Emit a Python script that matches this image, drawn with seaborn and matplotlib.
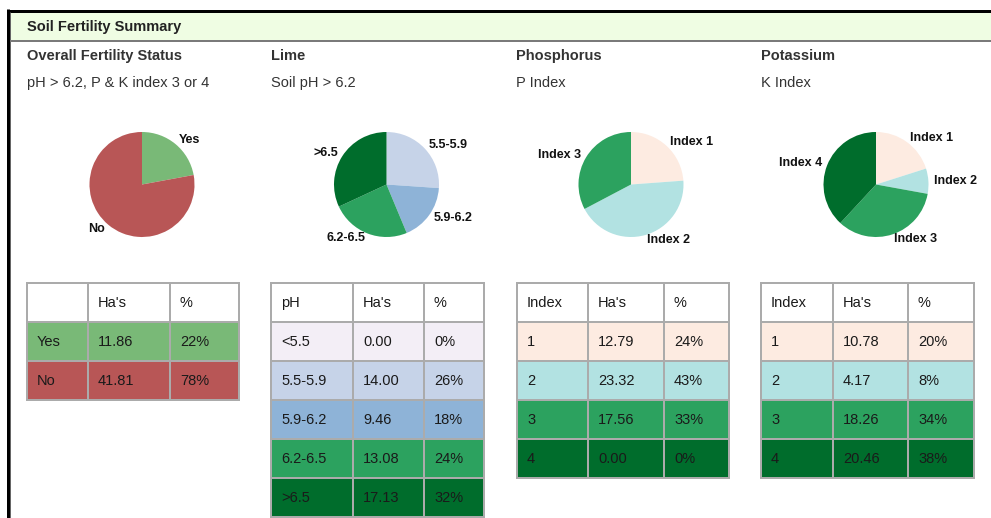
import numpy as np
import pandas as pd
import matplotlib
matplotlib.use("Agg")
import matplotlib.pyplot as plt
import seaborn as sns
from matplotlib.patches import Rectangle

sns.set_theme(style="white")
plt.rcParams['font.family'] = ['Liberation Sans', 'DejaVu Sans']

# ---------------- data ----------------
status_cats = ["Yes", "No"]
status_has = [11.86, 41.81]
status_pct = [22, 78]

lime_cats = ["<5.5", "5.5-5.9", "5.9-6.2", "6.2-6.5", ">6.5"]
lime_has = [0.00, 14.00, 9.46, 13.08, 17.13]
lime_pct = [0, 26, 18, 24, 32]

index_cats = ["1", "2", "3", "4"]
p_has = [12.79, 23.32, 17.56, 0.00]
p_pct = [24, 43, 33, 0]
k_has = [10.78, 4.17, 18.26, 20.46]
k_pct = [20, 8, 34, 38]

section_titles = ["Overall Fertility Status", "Lime", "Phosphorus", "Potassium"]
section_subtitles = ["pH > 6.2, P & K index 3 or 4", "Soil pH > 6.2", "P Index", "K Index"]
table_headers = [["", "Ha's", "%"], ["pH", "Ha's", "%"], ["Index", "Ha's", "%"], ["Index", "Ha's", "%"]]

# ---------------- styles ----------------
status_colors = ["#79b977", "#b85656"]
lime_colors = ["#f3eef6", "#c6d3e8", "#8eb3d7", "#2ca25f", "#006d2c"]
index_colors = ["#fdebe1", "#b2e2e2", "#2ca25f", "#006d2c"]

W, H = 991, 518
fig = plt.figure(figsize=(W / 100, H / 100), dpi=100)
fig.patch.set_facecolor("white")


def px_axes(x0, y0, x1, y1):
    return fig.add_axes([x0 / W, 1 - y1 / H, (x1 - x0) / W, (y1 - y0) / H])


# background / frame
bg = px_axes(0, 0, W, H)
bg.set_xlim(0, W)
bg.set_ylim(H, 0)
bg.axis("off")
bg.add_patch(Rectangle((9, 12), W - 9, 28, facecolor="#effde3", edgecolor="none"))
bg.plot([6.5, W], [10.5, 10.5], color="black", lw=3 * 0.72, solid_capstyle="butt")
bg.plot([8, 8], [9, H], color="black", lw=3 * 0.72, solid_capstyle="butt")
bg.plot([9.5, 9.5], [12, H], color="#666666", lw=1 * 0.72, solid_capstyle="butt")
bg.plot([9.5, W], [41, 41], color="#7a7a7a", lw=2 * 0.72, solid_capstyle="butt")

bg.text(27, 26.5, "Soil Fertility Summary", fontsize=10.5, fontweight="bold",
        color="#222222", va="center", ha="left")

col_x = [27, 271, 516, 761]
for x, t, s in zip(col_x, section_titles, section_subtitles):
    bg.text(x, 56, t, fontsize=10.5, fontweight="bold", color="#333333", va="center", ha="left")
    bg.text(x, 83, s, fontsize=10.5, color="#333333", va="center", ha="left")


# ---------------- pies ----------------
def draw_pie(cx, cy, r, values, labels, colors):
    vals, labs, cols = [], [], []
    for v, l, c in zip(values, labels, colors):
        if v > 0:
            vals.append(v)
            labs.append(l)
            cols.append(c)
    ax = px_axes(cx - 1.25 * r, cy - 1.25 * r, cx + 1.25 * r, cy + 1.25 * r)
    ax.pie(vals, labels=labs, colors=cols, startangle=90, counterclock=False,
           labeldistance=1.1, wedgeprops=dict(linewidth=0),
           textprops=dict(fontsize=9, fontweight="bold", color="#111111"))
    ax.set_xlim(-1.25, 1.25)
    ax.set_ylim(-1.25, 1.25)
    ax.set_aspect("equal")
    ax.axis("off")


R = 52.5
draw_pie(142, 184.5, R, status_has, status_cats, status_colors)
draw_pie(386.5, 184.5, R, lime_has, lime_cats, lime_colors)
draw_pie(631, 184.5, R, p_has, ["Index " + c for c in index_cats], index_colors)
draw_pie(876, 184.5, R, k_has, ["Index " + c for c in index_cats], index_colors)


# ---------------- tables ----------------
def draw_table(x_edges, y_edges, header, rows, colors):
    ax = px_axes(x_edges[0] - 2, y_edges[0] - 2, x_edges[-1] + 2, y_edges[-1] + 2)
    ax.set_xlim(x_edges[0] - 2, x_edges[-1] + 2)
    ax.set_ylim(y_edges[-1] + 2, y_edges[0] - 2)
    ax.axis("off")
    all_rows = [header] + rows
    all_cols = ["white"] + colors
    for i, (row, fc) in enumerate(zip(all_rows, all_cols)):
        y0, y1 = y_edges[i], y_edges[i + 1]
        for j, txt in enumerate(row):
            x0, x1 = x_edges[j], x_edges[j + 1]
            ax.add_patch(Rectangle((x0, y0), x1 - x0, y1 - y0, facecolor=fc,
                                   edgecolor="#ababab", lw=2 * 0.72))
            ax.text(x0 + 10, (y0 + y1) / 2 + 0.5, txt, fontsize=10.5, color="#1a1a1a",
                    va="center", ha="left")


def rows_of(cats, has, pct):
    return [[c, f"{h:.2f}", f"{p}%"] for c, h, p in zip(cats, has, pct)]


row_y = [283, 322, 361, 400, 439, 478, 517]
draw_table([27, 88, 170, 239], row_y[:4], table_headers[0],
           rows_of(status_cats, status_has, status_pct), status_colors)
draw_table([271, 353, 424, 484], row_y[:7], table_headers[1],
           rows_of(lime_cats, lime_has, lime_pct), lime_colors)
draw_table([517, 588, 664, 729], row_y[:6], table_headers[2],
           rows_of(index_cats, p_has, p_pct), index_colors)
draw_table([761, 833, 908, 974], row_y[:6], table_headers[3],
           rows_of(index_cats, k_has, k_pct), index_colors)

fig.savefig("out.png", dpi=100, facecolor="white")
